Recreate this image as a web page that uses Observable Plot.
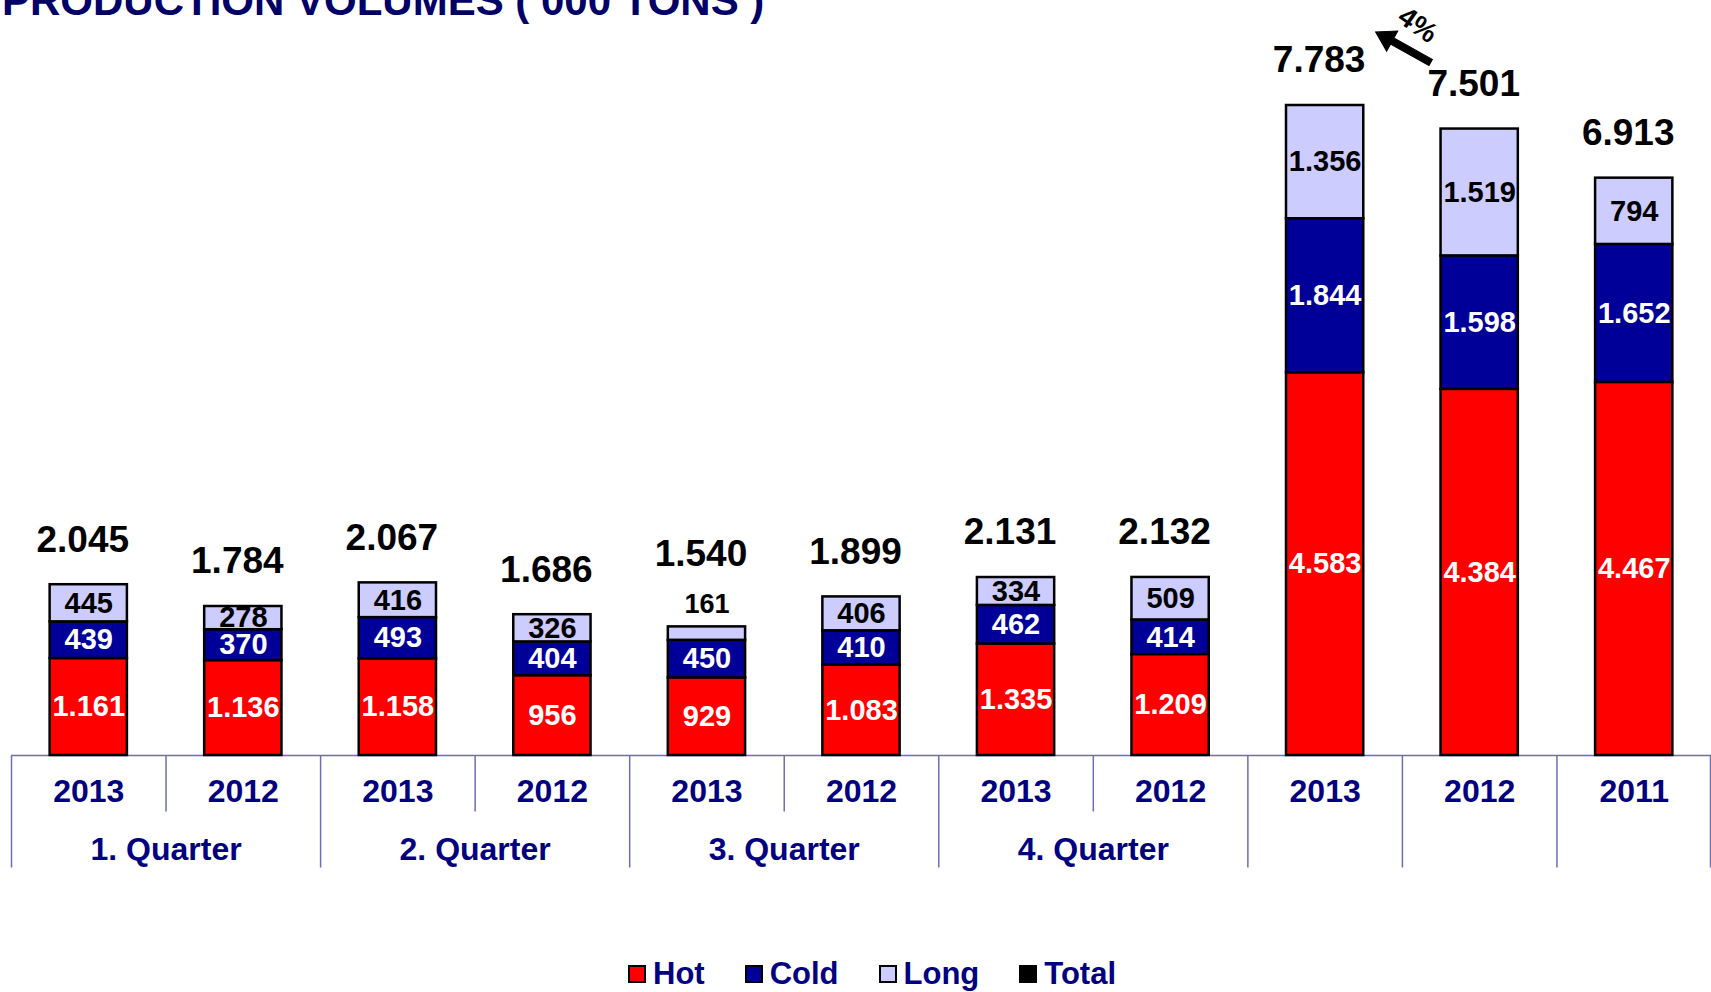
<!DOCTYPE html>
<html><head><meta charset="utf-8">
<script src="https://cdn.jsdelivr.net/npm/d3@7"></script>
<script src="https://cdn.jsdelivr.net/npm/@observablehq/plot@0.6"></script>
<style>
html,body{margin:0;padding:0;background:#fff;overflow:hidden;}
body{width:1711px;height:992px;font-family:"Liberation Sans",Arial,sans-serif;}
#title{position:relative;height:20px;}
#title span{position:absolute;left:2px;top:-20px;font-size:42px;line-height:42px;font-weight:bold;color:#000066;white-space:nowrap;}
#chart svg{overflow:visible;display:block;}
#legend{height:37px;display:flex;align-items:center;padding-left:628px;}
.item{display:flex;align-items:center;margin-right:40px;}
.sw{width:18px;height:18px;box-sizing:border-box;border:2px solid #000;margin-right:7px;}
.lab{font-size:31px;font-weight:bold;color:#000080;line-height:37px;}
</style></head><body>
<div id="title"><span>PRODUCTION VOLUMES ( 000 TONS )</span></div>
<div id="chart"></div>
<div id="legend"></div>
<script>
// ---- data ----
const keys = ["Q1-2013","Q1-2012","Q2-2013","Q2-2012","Q3-2013","Q3-2012","Q4-2013","Q4-2012","FY-2013","FY-2012","FY-2011"];
const yearLabels = ["2013","2012","2013","2012","2013","2012","2013","2012","2013","2012","2011"];
const groupLabels = ["1. Quarter","1. Quarter","2. Quarter","2. Quarter","3. Quarter","3. Quarter","4. Quarter","4. Quarter","","",""];
const hot  = [1161,1136,1158,956,929,1083,1335,1209,4583,4384,4467];
const cold = [439,370,493,404,450,410,462,414,1844,1598,1652];
const long = [445,278,416,326,161,406,334,509,1356,1519,794];
const total = [2045,1784,2067,1686,1540,1899,2131,2132,7783,7501,6913];
const seriesNames = ["Hot","Cold","Long"];
const seriesColors = ["#ff0000","#000099","#ccccff"];
const legendNames = ["Hot","Cold","Long","Total"];
const legendColors = ["#ff0000","#000099","#ccccff","#000000"];

// ---- layout ----
const n = keys.length;
const W = 1711, H = 935;
const mL = 11, mR = 0, mT = 85, mB = 200;
const pIn = 0.5, pOut = 0.25;
const step = (W - mL - mR) / (n - pIn + 2 * pOut);
const fmt = d3.formatLocale({decimal: ",", thousands: ".", grouping: [3], currency: ["", ""]}).format(",d");
const axisColor = "#6d6db5";
const navy = "#000080";

const series = [hot, cold, long];
const tidy = [];
keys.forEach((k, i) => {
  let base = 0;
  series.forEach((arr, j) => {
    const v = arr[i];
    tidy.push({key: k, series: seriesNames[j], value: v, mid: base + v / 2, top: base + v});
    base += v;
  });
});
const totals = keys.map((k, i) => ({key: k, total: total[i], longInside: long[i] >= 200}));
const leftEdges = keys.map((k, i) => ({key: k, long: i === 0 || groupLabels[i] === "" || groupLabels[i] !== groupLabels[i - 1]}));
const groupStarts = keys.map((k, i) => ({key: k, label: groupLabels[i], i}))
  .filter(d => d.label !== "" && (d.i === 0 || groupLabels[d.i - 1] !== d.label));
const yearRows = keys.map((k, i) => ({key: k, year: yearLabels[i]}));
const change = [{key: keys[9], y: total[9], pct: Math.round((total[8] - total[9]) / total[9] * 100) + "%"}];

const lineShape = {draw(ctx, l) { ctx.moveTo(0, 0); ctx.lineTo(0, -l); }};
const arrowShape = {draw(ctx, l) {
  const hw = 3.5, hl = 19, hh = 11.5;
  ctx.moveTo(-hw, 0); ctx.lineTo(-hw, -(l - hl)); ctx.lineTo(-hh, -(l - hl)); ctx.lineTo(0, -l);
  ctx.lineTo(hh, -(l - hl)); ctx.lineTo(hw, -(l - hl)); ctx.lineTo(hw, 0); ctx.closePath();
}};

const txt = {fontWeight: "bold"};
const chart = Plot.plot({
  width: W, height: H,
  marginLeft: mL, marginRight: mR, marginTop: mT, marginBottom: mB,
  style: {fontFamily: "'Liberation Sans', Arial, sans-serif", background: "white", overflow: "visible"},
  x: {domain: keys, paddingInner: pIn, paddingOuter: pOut, align: 0.5, round: false, axis: null},
  y: {domain: [0, d3.max(total)], axis: null},
  color: {domain: seriesNames, range: seriesColors},
  marks: [
    Plot.ruleY([0], {stroke: axisColor, strokeWidth: 1.5}),
    Plot.vector(leftEdges.filter(d => d.long), {x: "key", y: () => 0, dx: -step / 2, length: 112, rotate: 180, anchor: "start", shape: lineShape, stroke: axisColor, strokeWidth: 1.5, strokeLinecap: "butt"}),
    Plot.vector(leftEdges.filter(d => !d.long), {x: "key", y: () => 0, dx: -step / 2, length: 56, rotate: 180, anchor: "start", shape: lineShape, stroke: axisColor, strokeWidth: 1.5, strokeLinecap: "butt"}),
    Plot.vector([keys[n - 1]], {x: d => d, y: () => 0, dx: step / 2 - 1, length: 112, rotate: 180, anchor: "start", shape: lineShape, stroke: axisColor, strokeWidth: 1.5, strokeLinecap: "butt"}),
    Plot.barY(tidy, {x: "key", y: "value", fill: "series", stroke: "black", strokeWidth: 2.5}),
    Plot.text(tidy.filter(d => d.series !== "Long"), {x: "key", y: "mid", text: d => fmt(d.value), fill: "white", fontSize: 29, ...txt}),
    Plot.text(tidy.filter(d => d.series === "Long" && d.value >= 200), {x: "key", y: "mid", text: d => fmt(d.value), fill: "black", fontSize: 29, ...txt}),
    Plot.text(tidy.filter(d => d.series === "Long" && d.value < 200), {x: "key", y: "top", dy: -23, text: d => fmt(d.value), fill: "black", fontSize: 27, ...txt}),
    Plot.text(totals.filter(d => d.longInside), {x: "key", y: "total", dx: -6, dy: -45, text: d => fmt(d.total), fill: "black", fontSize: 37, ...txt}),
    Plot.text(totals.filter(d => !d.longInside), {x: "key", y: "total", dx: -6, dy: -73, text: d => fmt(d.total), fill: "black", fontSize: 37, ...txt}),
    Plot.text(yearRows, {x: "key", y: () => 0, dy: 36, text: "year", fill: navy, fontSize: 32, ...txt}),
    Plot.text(groupStarts, {x: "key", y: () => 0, dx: step / 2, dy: 94, text: "label", fill: navy, fontSize: 32, ...txt}),
    Plot.vector(change, {x: "key", y: "y", dx: -49, dy: -66.6, length: 63, rotate: -61, anchor: "start", shape: arrowShape, fill: "black", stroke: "black", strokeWidth: 1, strokeLinejoin: "miter"}),
    Plot.text(change, {x: "key", y: "y", dx: -62, dy: -104, rotate: 35, text: "pct", fill: "black", fontSize: 28, ...txt})
  ]
});
document.getElementById("chart").appendChild(chart);

// ---- legend ----
const lg = document.getElementById("legend");
legendNames.forEach((name, i) => {
  const it = document.createElement("div");
  it.className = "item";
  it.innerHTML = `<div class="sw" style="background:${legendColors[i]}"></div><span class="lab">${name}</span>`;
  lg.appendChild(it);
});
</script>
</body></html>
